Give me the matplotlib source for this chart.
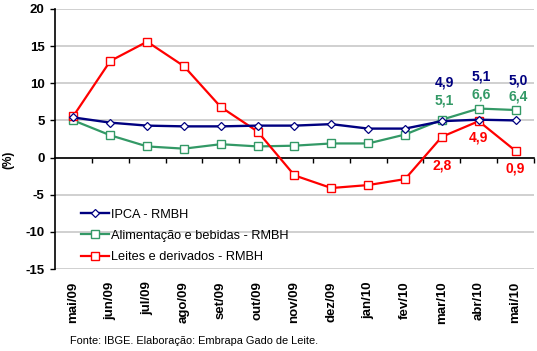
import numpy as np
import matplotlib
matplotlib.use("Agg")
import matplotlib.pyplot as plt

plt.rcParams["font.family"] = ["Liberation Sans", "DejaVu Sans"]
plt.rcParams["axes.unicode_minus"] = False

months = ["mai/09", "jun/09", "jul/09", "ago/09", "set/09", "out/09", "nov/09",
          "dez/09", "jan/10", "fev/10", "mar/10", "abr/10", "mai/10"]
ipca = [5.4, 4.7, 4.3, 4.2, 4.2, 4.3, 4.3, 4.5, 3.9, 3.9, 4.9, 5.1, 5.0]
alimentacao = [5.0, 3.0, 1.5, 1.2, 1.8, 1.5, 1.6, 1.9, 1.9, 3.1, 5.1, 6.6, 6.4]
leites = [5.6, 13.0, 15.6, 12.3, 6.8, 3.5, -2.4, -4.1, -3.7, -2.9, 2.8, 4.9, 0.9]

# only the last three months carry value labels
label_idx = [10, 11, 12]

navy = "#000080"
green = "#339966"
red = "#ff0000"

fig = plt.figure(figsize=(5.37, 3.51), dpi=100)
ax = fig.add_axes([0.1024, 0.2336, 0.892, 0.7408])

x = np.arange(len(months))
ax.plot(x, ipca, color=navy, lw=1.7, marker="D", ms=4.2, mfc="white",
        mec=navy, mew=0.9, label="IPCA - RMBH", zorder=4)
ax.plot(x, alimentacao, color=green, lw=1.6, marker="s", ms=5.2, mfc="white",
        mec=green, mew=1.0, label="Alimentação e bebidas - RMBH", zorder=3)
ax.plot(x, leites, color=red, lw=1.6, marker="s", ms=5.2, mfc="white",
        mec=red, mew=1.0, label="Leites e derivados - RMBH", zorder=3)

# value labels
ipca_off = [28, 31, 29]
alim_off = [14, 10, 10]
leites_off = [-21, -12, -13]
for k, i in enumerate(label_idx):
    ax.annotate(f"{ipca[i]:.1f}".replace(".", ","), (x[i], ipca[i]),
                xytext=(2, ipca_off[k]), textcoords="offset points",
                ha="center", va="center", color=navy, fontsize=10, fontweight="bold")
    ax.annotate(f"{alimentacao[i]:.1f}".replace(".", ","), (x[i], alimentacao[i]),
                xytext=(2, alim_off[k]), textcoords="offset points",
                ha="center", va="center", color=green, fontsize=10, fontweight="bold")
    ax.annotate(f"{leites[i]:.1f}".replace(".", ","), (x[i], leites[i]),
                xytext=(0, leites_off[k]), textcoords="offset points",
                ha="center", va="center", color=red, fontsize=10, fontweight="bold")

ax.set_xlim(-0.5, len(months) - 0.5)
ax.set_ylim(-15, 20)
ax.set_yticks(np.arange(-15, 21, 5))
ax.tick_params(axis="y", length=3.5, width=1, labelsize=9.5, pad=4)
for lab in ax.get_yticklabels():
    lab.set_fontweight("bold")
ax.yaxis.grid(True, color="#c8c8c8", lw=1.2)
ax.set_axisbelow(True)

ax.spines["top"].set_visible(False)
ax.spines["right"].set_visible(False)
ax.spines["left"].set_linewidth(1.2)
ax.spines["bottom"].set_position(("data", 0))
ax.spines["bottom"].set_linewidth(1.2)
ax.spines["bottom"].set_zorder(2.5)
ax.set_xticks(np.arange(0.5, len(months), 1))
ax.tick_params(axis="x", length=3.5, width=1, labelbottom=False)

sec = ax.secondary_xaxis(0.0)
sec.set_xticks(x, months)
sec.tick_params(length=0, pad=9, labelsize=9.5, labelrotation=90)
for lab in sec.get_xticklabels():
    lab.set_fontweight("bold")
sec.spines["bottom"].set_visible(False)

ax.set_ylabel("(%)", fontsize=8.5, fontweight="bold")
ax.yaxis.set_label_coords(-0.085, 0.42)

ax.legend(loc="upper left", bbox_to_anchor=(0.054, 0.232), frameon=False,
          fontsize=9.2, handlelength=2.2, handletextpad=0.15, labelspacing=0.72,
          borderpad=0, borderaxespad=0)

fig.text(0.13, 0.028, "Fonte: IBGE. Elaboração: Embrapa Gado de Leite.",
         fontsize=7.9, va="center", ha="left")

fig.savefig("out.png", dpi=100)
